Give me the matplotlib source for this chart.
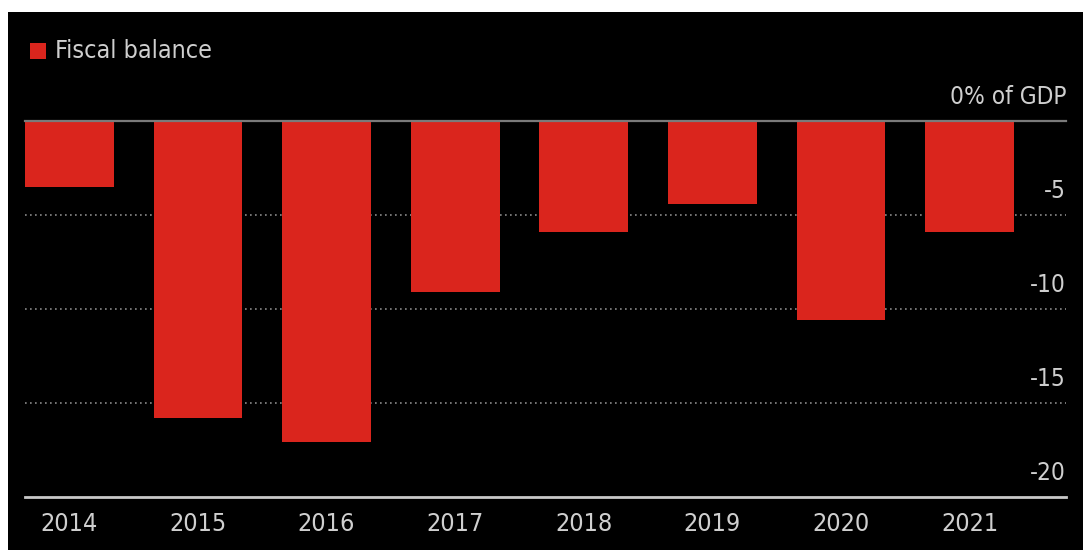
import matplotlib.pyplot as plt
from matplotlib.patches import Rectangle

years = ['2014', '2015', '2016', '2017', '2018', '2019', '2020', '2021']
fiscal_balance = [-3.5, -15.8, -17.1, -9.1, -5.9, -4.4, -10.6, -5.9]
y_ticks = [0, -5, -10, -15, -20]
y_labels = ['0% of GDP', '-5', '-10', '-15', '-20']

RED = '#da251d'
TEXT = '#cfcfcf'
plt.rcParams['font.family'] = ['DejaVu Sans']
plt.rcParams['font.stretch'] = 'condensed'

fig = plt.figure(figsize=(10.83, 5.5), dpi=100, facecolor='white')
# black panel, leaving a thin white strip at top and left
fig.patches.append(Rectangle((8 / 1083, 0), 1, (550 - 12) / 550,
                             transform=fig.transFigure, facecolor='black',
                             edgecolor='none', zorder=-10))

ax = fig.add_axes([25 / 1083, (550 - 497) / 550, (1066 - 25) / 1083, (497 - 121) / 550])
ax.set_facecolor('none')
x = range(len(years))
ax.bar(x, fiscal_balance, width=0.69, color=RED, zorder=2)

ax.set_xlim(-0.345, 7.75)
ax.set_ylim(-20, 0)

# gridlines: solid at zero and bottom, dotted in between
for v in y_ticks:
    if v == 0:
        ax.axhline(v, color='#7a7a7a', lw=1.6, zorder=3, clip_on=False)
    elif v == -20:
        ax.axhline(v, color='#c8c8c8', lw=2, zorder=3, clip_on=False)
    else:
        ax.axhline(v, color='#8a8a8a', lw=1.2, ls=(0, (1, 2.0)), zorder=1)

# value labels sit above their line at the right edge
for v, lab in zip(y_ticks, y_labels):
    ax.text(1.0, v + 1.3, lab, transform=ax.get_yaxis_transform(),
            ha='right', va='center', color=TEXT, fontsize=17.5)

ax.set_xticks(list(x))
ax.set_xticklabels(years, color=TEXT, fontsize=18)
ax.tick_params(axis='x', length=0, pad=11)
ax.set_yticks([])
for s in ax.spines.values():
    s.set_visible(False)

# legend
fig.patches.append(Rectangle((30 / 1083, (550 - 59) / 550), 16 / 1083, 16 / 550,
                             transform=fig.transFigure, facecolor=RED,
                             edgecolor='none', zorder=5))
fig.text(55 / 1083, (550 - 51) / 550, 'Fiscal balance', color=TEXT,
         fontsize=18, ha='left', va='center')

fig.savefig('out.png', dpi=100, facecolor='white')
